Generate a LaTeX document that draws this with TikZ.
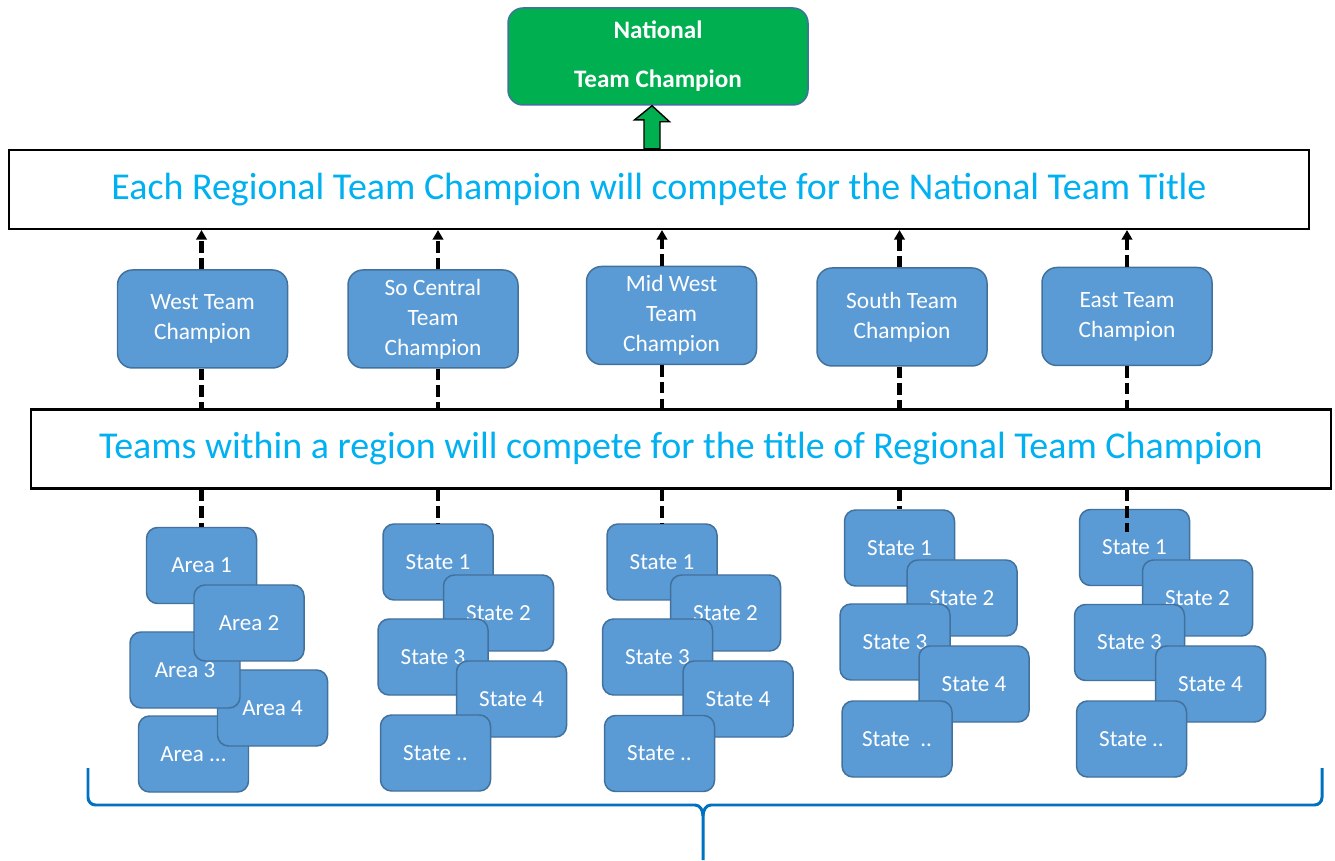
\documentclass[tikz,border=0pt]{standalone}
\usepackage{fontspec}
\setmainfont{Carlito}
\usetikzlibrary{arrows.meta}
\definecolor{boxblue}{HTML}{5B9BD5}
\definecolor{boxedge}{HTML}{41719C}
\definecolor{natgreen}{HTML}{00B050}
\definecolor{titlecyan}{HTML}{00B0F0}
\definecolor{bracecol}{HTML}{0070C0}

\begin{document}
\begin{tikzpicture}[
  band/.style={draw, line width=1.2pt, minimum width=26cm, minimum height=1.58cm, text=titlecyan, font=\fontsize{21.6}{26}\selectfont},
  champ/.style={draw=boxedge, fill=boxblue, line width=0.85pt, rounded corners=0.3cm, minimum width=3.4cm, minimum height=1.96cm, text=white, align=center, font=\fontsize{13.3}{17}\selectfont},
  teambox/.style={draw=boxedge, fill=boxblue, line width=0.85pt, rounded corners=0.22cm, minimum width=2.2cm, minimum height=1.52cm, text=white, font=\fontsize{13.1}{17}\selectfont},
  dashline/.style={line width=2.3pt, dash pattern=on 6.5pt off 3pt},
  dasharrow/.style={dashline, -{Triangle[width=6pt,length=5.5pt]}}
]
\useasboundingbox (0,0) rectangle (26.7,17.2);

% National champion and the two banners
\node[draw=boxedge, fill=natgreen, line width=0.85pt, rounded corners=0.3cm, minimum width=6cm, minimum height=1.94cm, text=white, align=center, font=\bfseries\fontsize{14.3}{16}\selectfont] (natl) at (13.16, 16.07) {National\\[12pt]Team Champion};
\node[band] (nattitle) at (13.18, 13.41) {Each Regional Team Champion will compete for the National Team Title};
\node[band] (regband) at (13.62, 8.22) {Teams within a region will compete for the title of Regional Team Champion};

% Regional champions
\node[champ] (westchamp) at (4.05, 10.82) {West Team\\Champion};
\node[champ] (scchamp) at (8.66, 10.82) {So Central\\Team\\Champion};
\node[champ] (mwchamp) at (13.43, 10.89) {Mid West\\Team\\Champion};
\node[champ] (southchamp) at (18.04, 10.86) {South Team\\Champion};
\node[champ] (eastchamp) at (22.54, 10.87) {East Team\\Champion};

% West areas
\node[teambox] (w5) at (3.87, 2.12) {Area ...};
\node[teambox] (w4) at (5.45, 3.04) {Area 4};
\node[teambox] (w3) at (3.70, 3.80) {Area 3};
\node[teambox] (w1) at (4.03, 5.89) {Area 1};
\node[teambox] (w2) at (4.98, 4.74) {Area 2};

% So Central states
\node[teambox] (sc1) at (8.76, 5.96) {State 1};
\node[teambox] (sc2) at (9.97, 4.94) {State 2};
\node[teambox] (sc3) at (8.66, 4.06) {State 3};
\node[teambox] (sc4) at (10.23, 3.22) {State 4};
\node[teambox] (sc5) at (8.71, 2.14) {State ..};

% Mid West states
\node[teambox] (mw1) at (13.24, 5.96) {State 1};
\node[teambox] (mw2) at (14.51, 4.94) {State 2};
\node[teambox] (mw3) at (13.15, 4.06) {State 3};
\node[teambox] (mw4) at (14.76, 3.22) {State 4};
\node[teambox] (mw5) at (13.19, 2.13) {State ..};

% South states
\node[teambox] (s1) at (17.99, 6.24) {State 1};
\node[teambox] (s2) at (19.24, 5.24) {State 2};
\node[teambox] (s3) at (17.90, 4.36) {State 3};
\node[teambox] (s4) at (19.48, 3.52) {State 4};
\node[teambox] (s5) at (17.94, 2.42) {State\ \ ..};

% East states
\node[teambox] (e1) at (22.69, 6.25) {State 1};
\node[teambox] (e2) at (23.95, 5.24) {State 2};
\node[teambox] (e3) at (22.59, 4.35) {State 3};
\node[teambox] (e4) at (24.21, 3.52) {State 4};
\node[teambox] (e5) at (22.63, 2.42) {State ..};

% Dashed links between the levels
\draw[dasharrow] (westchamp.north -| w1) -- (nattitle.south -| w1);
\draw[dashline] (westchamp.south -| w1) -- (regband.north -| w1);
\draw[dashline] (regband.south -| w1) -- (w1.north);
\draw[dasharrow] (scchamp.north -| sc1) -- (nattitle.south -| sc1);
\draw[dashline] (scchamp.south -| sc1) -- (regband.north -| sc1);
\draw[dashline] (regband.south -| sc1) -- (sc1.north);
\draw[dasharrow] (mwchamp.north -| mw1) -- (nattitle.south -| mw1);
\draw[dashline] (mwchamp.south -| mw1) -- (regband.north -| mw1);
\draw[dashline] (regband.south -| mw1) -- (mw1.north);
\draw[dasharrow] (southchamp.north -| s1) -- (nattitle.south -| s1);
\draw[dashline] (southchamp.south -| s1) -- (regband.north -| s1);
\draw[dashline] (regband.south -| s1) -- (s1.north);
\draw[dasharrow] (eastchamp.north) -- (nattitle.south -| eastchamp);
\draw[dashline] (eastchamp.south) -- (regband.north -| eastchamp);
\draw[dashline] (regband.south -| eastchamp) -- ([yshift=-0.46cm]eastchamp |- e1.north);

% Green block arrow up to the national champion
\draw[fill=natgreen, line width=0.8pt] ([xshift=-0.12cm]natl.south) -- ++(0.35,-0.32) -- ++(-0.19,0)
  -- ([xshift=0.04cm]natl.south |- nattitle.north) -- ([xshift=-0.28cm]natl.south |- nattitle.north)
  -- ++(0,0.58) -- ++(-0.19,0) -- cycle;

% Brace under all regions
\draw[bracecol, line width=1.7pt] (1.76,1.84) -- (1.76,1.25) to[out=-90,in=180] (1.91,1.1) -- (13.9,1.1)
  to[out=0,in=90] (14.06,0.88) -- (14.06,0);
\draw[bracecol, line width=1.7pt] (14.06,0.88) to[out=90,in=180] (14.22,1.1) -- (26.29,1.1)
  to[out=0,in=-90] (26.44,1.25) -- (26.44,1.84);
\end{tikzpicture}
\end{document}
